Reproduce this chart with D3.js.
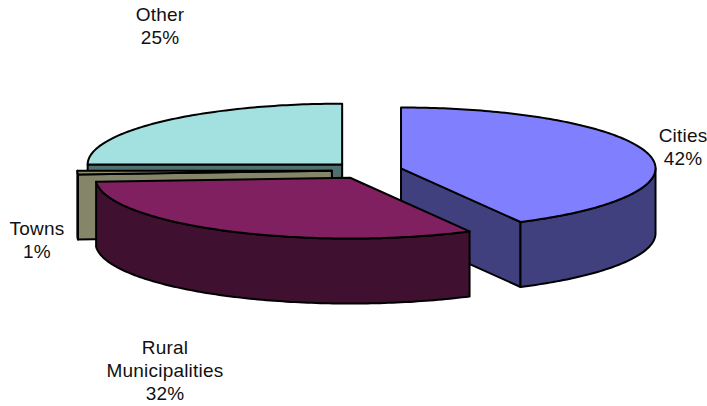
<!DOCTYPE html>
<html>
<head>
<meta charset="utf-8">
<script src="https://cdn.jsdelivr.net/npm/d3@7"></script>
<style>
  html, body { margin: 0; padding: 0; background: #fff; }
  svg { display: block; }
  text { font-family: "Liberation Sans", Arial, sans-serif; font-size: 19px; letter-spacing: 0.2px; fill: #111; }
</style>
</head>
<body>
<svg id="chart" width="707" height="406"></svg>
<script>
// Share of the total by municipality type
const categories = ["Cities", "Rural Municipalities", "Towns", "Other"];
const shares = [42, 32, 1, 25];
const topColors = ["#8080ff", "#802060", "#8f8f70", "#a3e0e0"];
const wallColors = ["#40407f", "#401030", "#85856a", "#507070"];

const width = 707, height = 406;
const explode = 0.138;
const sliceDepth = 65;

const svg = d3.select("#chart");

// Unit-circle plane mapped onto the tilted ellipse
const x = d3.scaleLinear().domain([-1, 1]).range([112.5, 621.5]);
const y = d3.scaleLinear().domain([-1, 1]).range([109.6, 231.2]);

const pie = d3.pie().value(d => d).sort(null).startAngle(0).endAngle(2 * Math.PI);
const arcs = pie(shares).map((a, i) => {
  const mid = (a.startAngle + a.endAngle) / 2;
  return {
    index: i,
    a0: a.startAngle,
    a1: a.endAngle,
    ox: explode * Math.sin(mid),
    oy: -explode * Math.cos(mid)
  };
});

const line = d3.line().x(p => p[0]).y(p => p[1]);

// Small angular shear of the tilted view; it vanishes on the ellipse axes
const viewAngle = angle => angle - 0.0165 * Math.sin(2 * angle);

const apex = (s, drop = 0) => [x(s.ox), y(s.oy) + drop];
const rim = (s, angle, drop = 0) => {
  const v = viewAngle(angle);
  return [x(s.ox + Math.sin(v)), y(s.oy - Math.cos(v)) + drop];
};

function rimPoints(s, from, to, drop = 0) {
  const n = Math.max(2, Math.ceil((to - from) / (Math.PI / 180)));
  return d3.range(n + 1).map(k => rim(s, from + (to - from) * k / n, drop));
}

function drawShape(points, fill) {
  svg.append("path")
    .attr("d", line(points) + "Z")
    .attr("fill", fill)
    .attr("stroke", "#000")
    .attr("stroke-width", 2)
    .attr("stroke-linejoin", "round");
}

function drawSlice(s) {
  const wall = wallColors[s.index];

  // Cut faces that turn toward the viewer
  if (Math.sin(s.a0) < -1e-6) {
    drawShape([apex(s), rim(s, s.a0), rim(s, s.a0, sliceDepth), apex(s, sliceDepth)], wall);
  }
  if (Math.sin(s.a1) > 1e-6) {
    drawShape([apex(s), rim(s, s.a1), rim(s, s.a1, sliceDepth), apex(s, sliceDepth)], wall);
  }

  // Curved outer wall, only along the front half of the ellipse
  const from = Math.max(s.a0, Math.PI / 2);
  const to = Math.min(s.a1, 3 * Math.PI / 2);
  if (to > from) {
    const upper = rimPoints(s, from, to);
    const lower = rimPoints(s, from, to, sliceDepth).reverse();
    drawShape(upper.concat(lower), wall);
  }

  // Top face
  drawShape([apex(s)].concat(rimPoints(s, s.a0, s.a1)), topColors[s.index]);
}

// Back slices first so the nearer ones overlap them
[3, 2, 0, 1].forEach(i => drawSlice(arcs[i]));

// Two- and three-line labels around the pie
const labelLines = [
  { lines: ["Cities", "42%"], cx: 683, top: 142 },
  { lines: ["Rural", "Municipalities", "32%"], cx: 165, top: 354 },
  { lines: ["Towns", "1%"], cx: 37, top: 235 },
  { lines: ["Other", "25%"], cx: 160, top: 20.5 }
];

labelLines.forEach(l => {
  const t = svg.append("text").attr("text-anchor", "middle");
  l.lines.forEach((str, k) => {
    t.append("tspan").attr("x", l.cx).attr("y", l.top + k * 23).text(str);
  });
});
</script>
</body>
</html>
